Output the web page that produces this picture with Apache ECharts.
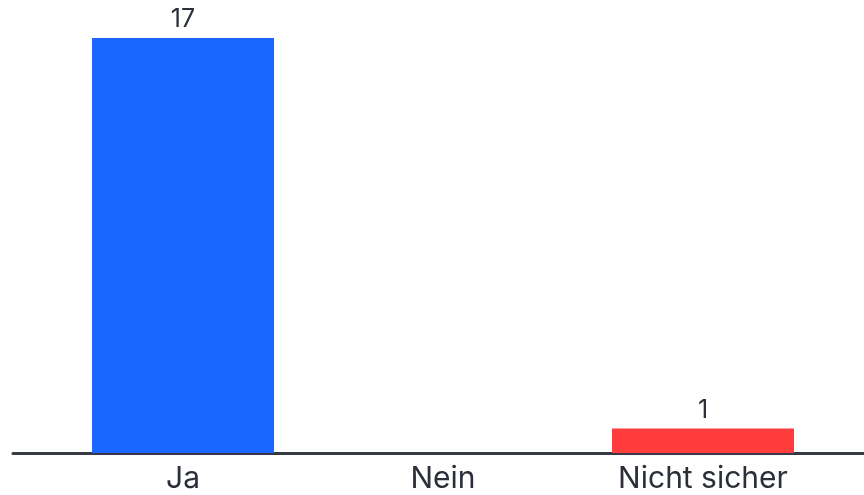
<!DOCTYPE html>
<html><head><meta charset="utf-8">
<script src="https://cdn.jsdelivr.net/npm/echarts@6/dist/echarts.min.js"></script>
<style>html,body{margin:0;padding:0;background:#fff}#c{width:864px;height:495px}</style>
</head><body><div id="c"></div>
<script>
const categories = ["Ja", "Nein", "Nicht sicher"];
const values = [17, 0, 1];
const colors = ["#1a66ff", "#1a66ff", "#ff3d3d"];

const chart = echarts.init(document.getElementById('c'), null, {renderer: 'canvas'});
chart.setOption({
  animation: false,
  backgroundColor: '#ffffff',
  grid: [
    {left: 53, right: 31, top: 38, bottom: 42, containLabel: false},
    {left: 13, right: 0, top: 38, bottom: 42, containLabel: false}
  ],
  xAxis: [
    {
      type: 'category', data: categories, gridIndex: 0,
      axisLine: {show: false}, axisTick: {show: false},
      axisLabel: {color: '#2b2f3a', fontSize: 30, fontFamily: 'Inter', margin: 11}
    },
    {
      type: 'value', gridIndex: 1, min: 0, max: 1,
      axisLine: {show: true, onZero: false, lineStyle: {color: '#353a45', width: 3}},
      axisTick: {show: false}, axisLabel: {show: false}, splitLine: {show: false}
    }
  ],
  yAxis: [
    {type: 'value', gridIndex: 0, min: 0, max: 17, show: false, splitLine: {show: false}},
    {type: 'value', gridIndex: 1, min: 0, max: 1, show: false, splitLine: {show: false}}
  ],
  series: [{
    type: 'bar',
    xAxisIndex: 0, yAxisIndex: 0,
    barCategoryGap: '30%',
    data: values.map((v, i) => ({
      value: v,
      itemStyle: {color: colors[i]},
      label: {show: v > 0}
    })),
    label: {
      show: true, position: 'top', distance: 6,
      color: '#2b2f3a', fontSize: 25, fontFamily: 'Inter'
    }
  }]
});
</script></body></html>
